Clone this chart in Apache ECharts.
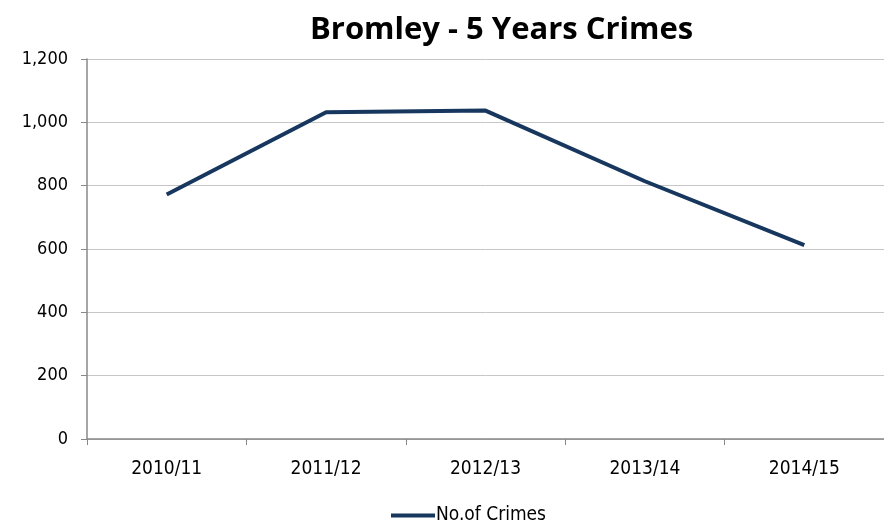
<!DOCTYPE html>
<html>
<head>
<meta charset="utf-8">
<script src="https://cdn.jsdelivr.net/npm/echarts@6/dist/echarts.min.js"></script>
<style>
  html, body { margin: 0; padding: 0; background: #fff; }
  #chart { width: 884px; height: 521px; }
</style>
</head>
<body>
<div id="chart"></div>
<script>
const categories = ['2010/11', '2011/12', '2012/13', '2013/14', '2014/15']
const crimes = [772, 1032, 1037, 814, 612]
const seriesName = 'No.of Crimes'
const titleText = 'Bromley - 5 Years Crimes'

const labelFont = '"DejaVu Sans Condensed", "DejaVu Sans", sans-serif'
const titleFont = '"Open Sans", Lato, sans-serif'
const lineColor = '#17375e'

const chart = echarts.init(document.getElementById('chart'))

chart.setOption({
  animation: false,
  title: {
    text: titleText,
    left: 305,
    top: 10,
    textStyle: {
      fontFamily: titleFont,
      fontSize: 31,
      fontWeight: 'bold',
      color: '#000'
    }
  },
  legend: {
    left: 386,
    top: 501,
    itemWidth: 44,
    itemHeight: 4,
    itemGap: 4,
    icon: 'rect',
    textStyle: { fontFamily: labelFont, fontSize: 19, color: '#000', padding: [0, 0, 0, -4] },
    data: [seriesName]
  },
  grid: {
    left: 87,
    top: 59,
    width: 808,
    height: 380,
    containLabel: false
  },
  xAxis: {
    type: 'category',
    data: categories,
    boundaryGap: true,
    axisLine: { lineStyle: { color: '#888', width: 1.5 } },
    axisTick: { show: true, length: 6, inside: false, lineStyle: { color: '#888' } },
    axisLabel: { fontFamily: labelFont, fontSize: 19, color: '#000', margin: 21 },
    splitLine: { show: false }
  },
  yAxis: {
    type: 'value',
    min: 0,
    max: 1200,
    interval: 200,
    axisLine: { show: true, lineStyle: { color: '#888', width: 1.5 } },
    axisTick: { show: true, length: 6, lineStyle: { color: '#888' } },
    axisLabel: {
      fontFamily: labelFont,
      fontSize: 18,
      color: '#000',
      margin: 19,
      formatter: v => v.toLocaleString('en-US')
    },
    splitLine: { lineStyle: { color: '#c6c6c6', width: 1 } }
  },
  series: [
    {
      name: seriesName,
      type: 'line',
      data: crimes,
      symbol: 'none',
      lineStyle: { color: lineColor, width: 4 },
      itemStyle: { color: lineColor }
    }
  ]
})
</script>
</body>
</html>
